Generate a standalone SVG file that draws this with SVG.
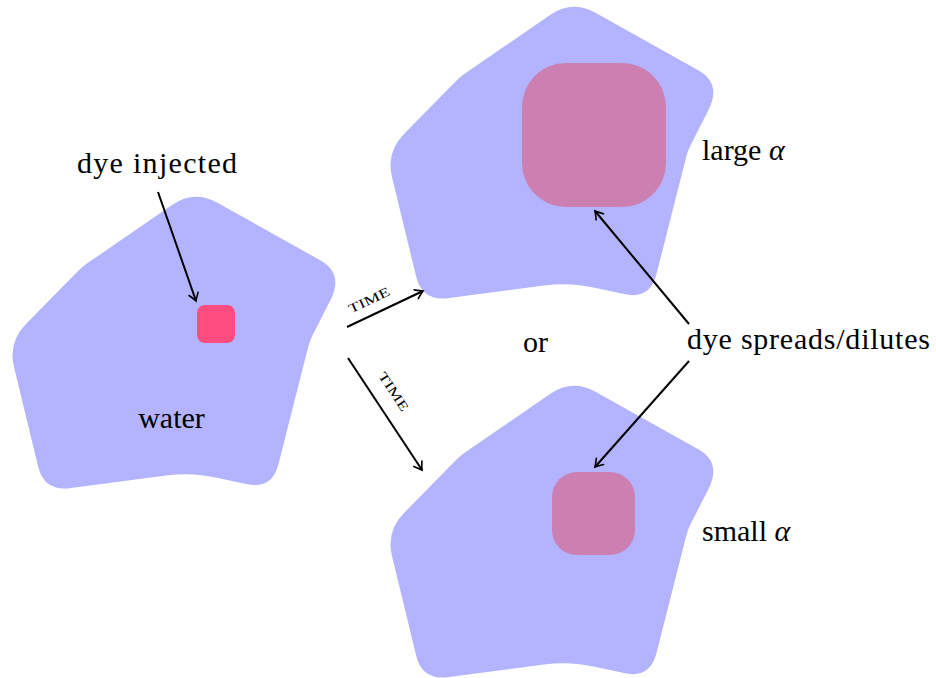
<svg xmlns="http://www.w3.org/2000/svg" width="936" height="678" viewBox="0 0 936 678" font-family="Liberation Serif">
  <defs>
    <marker id="to" viewBox="-10 -6 12 12" markerWidth="12" markerHeight="12" refX="0" refY="0" orient="auto" markerUnits="userSpaceOnUse">
      <path d="M -7.5,-4.8 Q -2,-1 0,0 Q -2,1 -7.5,4.8" stroke="#000" stroke-width="1.6" fill="none" stroke-linecap="round"/>
    </marker>
    <!-- pentagon-like water region with rounded corners -->
    <path id="region" fill="#b3b3ff" d="M 217,202.5 Q 194,190 172,205 L 86.9,263.6 Q 82,267 77.8,271.3 L 26,324 Q 8,342 14,367 L 38,466 Q 44,492 71,488 L 166,475.5 Q 192,472 218,478 L 246,484 Q 272,490 278.5,464 L 308.5,345.8 Q 310,340 312.8,334.7 L 331,299 Q 344,272 318,259 Z"/>
  </defs>

  <!-- initial state: water with a drop of dye -->
  <g id="water">
    <use href="#region"/>
    <rect fill="#ff4d82" x="197" y="305" width="38" height="38" rx="8"/>
    <text style="font-family: 'Liberation Serif', serif" font-size="30" x="171.5" y="428" text-anchor="middle">water</text>
  </g>

  <!-- outcome with large diffusivity -->
  <g id="large">
    <use href="#region" transform="translate(378,-190)"/>
    <rect fill="#cb80b1" x="522" y="63" width="144" height="144" rx="44"/>
    <text style="font-family: 'Liberation Serif', serif" font-size="30" x="702" y="160">large <tspan font-style="italic">α</tspan></text>
  </g>

  <!-- outcome with small diffusivity -->
  <g id="small">
    <use href="#region" transform="translate(378,189)"/>
    <rect fill="#cb80b1" x="552" y="472" width="83" height="83" rx="25"/>
    <text style="font-family: 'Liberation Serif', serif" font-size="30" x="702" y="541">small <tspan font-style="italic">α</tspan></text>
  </g>

  <g id="labels" style="font-family: 'Liberation Serif', serif">
    <text font-size="30" x="157" y="173" text-anchor="middle" textLength="160">dye injected</text>
    <text font-size="30" x="535.5" y="352" text-anchor="middle">or</text>
    <text font-size="30" x="808.5" y="349" text-anchor="middle" textLength="243">dye spreads/dilutes</text>
    <text font-size="13" transform="translate(371,304) rotate(-25.3)" text-anchor="middle" textLength="44" lengthAdjust="spacingAndGlyphs">TIME</text>
    <text font-size="13" transform="translate(390,394) rotate(56.5)" text-anchor="middle" textLength="44" lengthAdjust="spacingAndGlyphs">TIME</text>
  </g>

  <g id="connectors" stroke="#000" stroke-width="2" fill="none" marker-end="url(#to)">
    <line x1="158" y1="192" x2="196" y2="301"/>
    <line x1="347" y1="327" x2="423" y2="291"/>
    <line x1="348" y1="358" x2="422" y2="470"/>
    <line x1="689" y1="324" x2="595" y2="211"/>
    <line x1="689" y1="361" x2="595" y2="467"/>
  </g>
</svg>
